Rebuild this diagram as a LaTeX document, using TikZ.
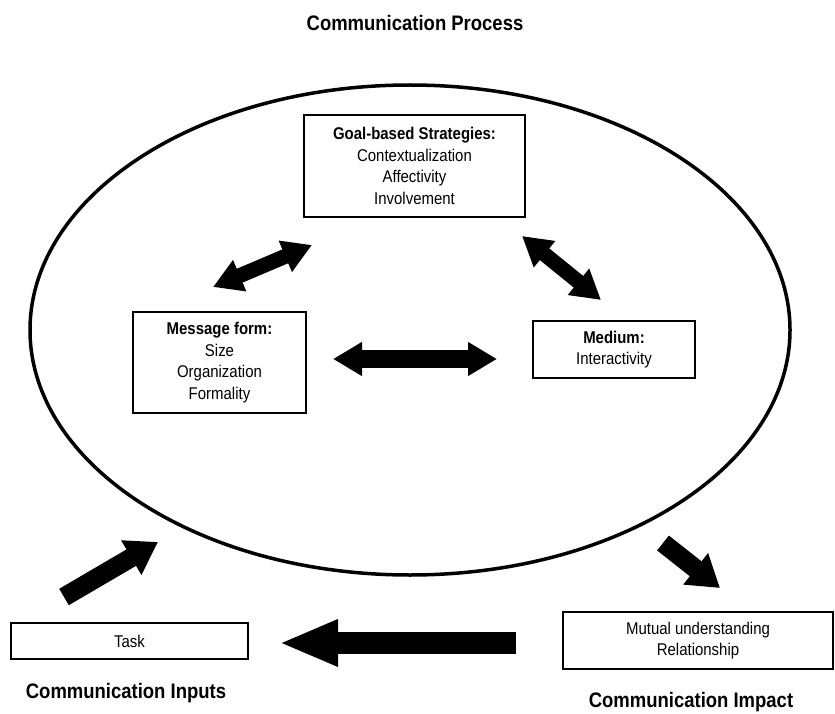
\documentclass[tikz,border=0pt]{standalone}
\usepackage{fontspec}
\setmainfont{Liberation Sans}[FakeStretch=0.88]
\usetikzlibrary{arrows.meta}

\begin{document}
\begin{tikzpicture}[x=1pt,y=-1pt,line cap=butt,
  box/.style={draw,line width=1.1pt,align=center,inner sep=0pt,font=\fontsize{17}{21.5}\selectfont},
  heading/.style={font=\fontsize{21}{24}\selectfont\bfseries},
  twoway/.style={line width=15pt,{Triangle[length=29pt,width=32pt]}-{Triangle[length=29pt,width=32pt]}},
  oneway/.style={line width=19pt,-{Triangle[length=31pt,width=38pt]}}]
\useasboundingbox (0,0) rectangle (835,714);
% titles
\node[heading] (proc) at (415,23) {Communication Process};
\node[heading] (inp) at (126,693) {Communication Inputs};
\node[heading] (imp) at (691,702) {Communication Impact};
% process ellipse
\draw[line width=3.5pt] (410,330) ellipse [x radius=380, y radius=245];
% boxes
\node[box,minimum width=221pt,minimum height=102pt] (goal) at (414.5,166) {\textbf{Goal-based Strategies:}\\Contextualization\\Affectivity\\Involvement};
\node[box,minimum width=173pt,minimum height=101pt] (msg) at (219.5,362.5) {\textbf{Message form:}\\Size\\Organization\\Formality};
\node[box,minimum width=162pt,minimum height=57pt] (med) at (614,349.5) {\textbf{Medium:}\\Interactivity};
\node[box,minimum width=237pt,minimum height=36pt] (task) at (129.5,641) {Task};
\node[box,minimum width=270pt,minimum height=57pt] (mutual) at (698,640.5) {Mutual understanding\\Relationship};
% arrow ends
\coordinate (ml) at (213,287);
\coordinate (gl) at (312,245);
\coordinate (gr) at (522,236);
\coordinate (mr) at (601,300);
\coordinate (hl) at (333,359);
\coordinate (hr) at (497,359);
\coordinate (in0) at (64,597);
\coordinate (in1) at (158,542);
\coordinate (out0) at (663,543);
\coordinate (out1) at (720,588);
\coordinate (back0) at (516,643);
\coordinate (back1) at (279,643);
% arrows
\draw[twoway] (ml) -- (gl);
\draw[twoway] (gr) -- (mr);
\draw[twoway,line width=18pt] (hl) -- (hr);
\draw[oneway] (in0) -- (in1);
\draw[oneway] (out0) -- (out1);
\draw[line width=22pt,-{Triangle[length=59pt,width=43pt]}] (back0) -- (back1);
\end{tikzpicture}
\end{document}
